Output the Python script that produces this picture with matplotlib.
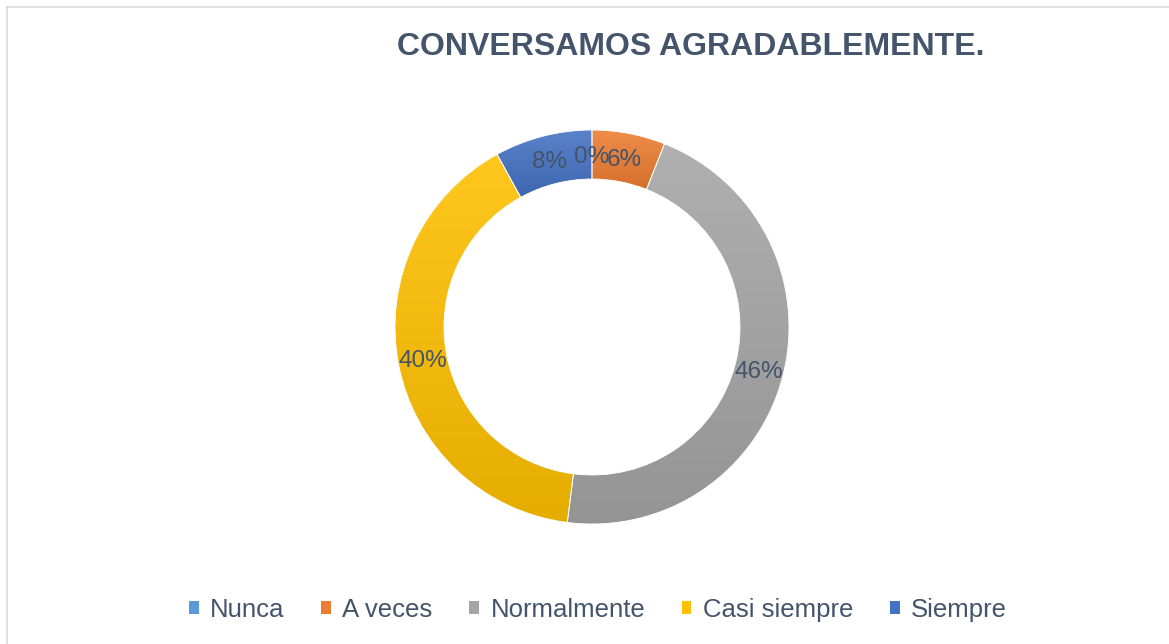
import numpy as np
import matplotlib
matplotlib.use('Agg')
import matplotlib.pyplot as plt
from matplotlib.patches import Patch
from matplotlib.lines import Line2D
from matplotlib.colors import to_rgb

plt.rcParams['font.family'] = ['Liberation Sans', 'DejaVu Sans']

title = 'CONVERSAMOS AGRADABLEMENTE.'
labels = ['Nunca', 'A veces', 'Normalmente', 'Casi siempre', 'Siempre']
values = [0, 6, 46, 40, 8]
colors = ['#5B9BD5', '#ED7D31', '#A5A5A5', '#FFC000', '#4472C4']
text_color = '#44546A'

W, H = 1169, 644
fig = plt.figure(figsize=(W / 100, H / 100), dpi=100)
ax = fig.add_axes([0, 0, 1, 1])

cx, cy = 592, H - 327
R, ring = 197, 49

wedges, texts, autotexts = ax.pie(
    values, radius=R, center=(cx, cy), startangle=90, counterclock=False,
    colors=colors, autopct='%.0f%%', pctdistance=(R - ring / 2) / R,
    wedgeprops=dict(width=ring, edgecolor='white', linewidth=0.6),
    textprops=dict(fontsize=17.5, color=text_color))


def shade(c, f):
    c = np.array(to_rgb(c))
    if f > 0:
        return c + (1 - c) * f
    return c * (1 + f)


# vertical gradient fill, lighter at top like the Excel style
for w, c in zip(wedges, colors):
    ext = w.get_path().get_extents()
    if ext.width <= 0 or ext.height <= 0:
        continue
    top, bot = shade(c, 0.12), shade(c, -0.10)
    t = np.linspace(0, 1, 256)[:, None]
    grad = top[None, :] * (1 - t) + bot[None, :] * t
    img = ax.imshow(grad[:, None, :].repeat(2, axis=1),
                    extent=(ext.x0, ext.x1, ext.y0, ext.y1),
                    origin='upper', aspect='auto', zorder=1,
                    interpolation='bilinear')
    img.set_clip_path(w)
    w.set_facecolor('none')
    w.set_zorder(2)

for t in autotexts:
    t.set_zorder(3)
    x, y = t.get_position()
    t.set_position((x, y - 2))

ax.set_xlim(0, W)
ax.set_ylim(0, H)
ax.axis('off')

fig.text(691 / W, 1 - 47 / H, title, ha='center', va='center',
         fontsize=23, fontweight='bold', color=text_color)

handles = [Patch(facecolor=c, edgecolor='none') for c in colors]
fig.legend(handles, labels, loc='center', bbox_to_anchor=(598 / W, 1 - 610 / H),
           ncol=5, frameon=False, fontsize=18.5, labelcolor=text_color,
           handlelength=0.38, handleheight=0.38, handletextpad=0.45,
           columnspacing=1.42)

# chart border (only top/left visible in the crop)
fig.add_artist(Line2D([7 / W, 7 / W], [0, 1 - 7 / H], color='#D9D9D9', lw=1.2))
fig.add_artist(Line2D([7 / W, 1], [1 - 7 / H, 1 - 7 / H], color='#D9D9D9', lw=1.2))

fig.savefig('out.png', dpi=100)
